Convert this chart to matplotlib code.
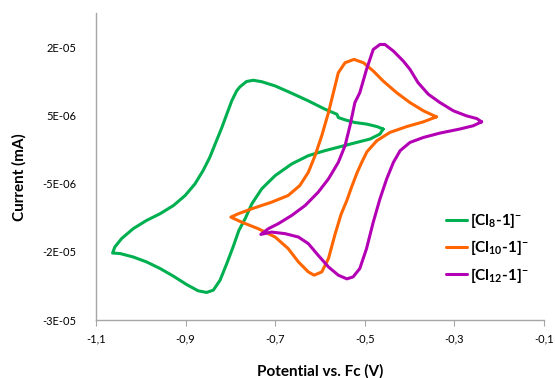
import matplotlib
matplotlib.use("Agg")
import matplotlib.pyplot as plt
import numpy as np

plt.rcParams["font.family"] = ["Lato", "DejaVu Sans"]
plt.rcParams["mathtext.fontset"] = "custom"
plt.rcParams["mathtext.rm"] = "Lato:bold"
plt.rcParams["mathtext.default"] = "rm"

# potential (V vs Fc) and current (units of 1e-6)
v_cl8 = [-0.459, -0.473, -0.496, -0.522, -0.544, -0.559, -0.562, -0.589, -0.626, -0.663,
         -0.700, -0.730, -0.749, -0.764, -0.779, -0.786, -0.797, -0.808, -0.819, -0.831,
         -0.846, -0.861, -0.879, -0.901, -0.927, -0.957, -0.987, -1.017, -1.043, -1.058,
         -1.063, -1.046, -1.017, -0.987, -0.957, -0.927, -0.898, -0.872, -0.853, -0.838,
         -0.823, -0.808, -0.794, -0.781, -0.767, -0.752, -0.730, -0.700, -0.663, -0.626,
         -0.589, -0.552, -0.518, -0.488, -0.466, -0.459]
i_cl8 = [2.99, 3.36, 3.72, 3.95, 4.34, 4.68, 5.15, 5.91, 7.12, 8.24,
         9.31, 9.93, 10.14, 9.96, 9.16, 8.58, 7.12, 5.18, 3.22, 1.28,
         -1.16, -3.10, -5.04, -6.75, -8.21, -9.42, -10.40, -11.61, -13.07, -14.30,
         -15.18, -15.26, -15.76, -16.49, -17.45, -18.58, -19.79, -20.72, -20.96, -20.62,
         -19.16, -16.72, -14.30, -11.86, -10.15, -7.96, -5.77, -3.83, -2.12, -0.91,
         -0.18, 0.45, 1.03, 1.53, 2.26, 2.99]

v_cl10 = [-0.340, -0.369, -0.399, -0.429, -0.459, -0.481, -0.503, -0.524, -0.544, -0.559,
          -0.570, -0.581, -0.596, -0.611, -0.626, -0.645, -0.671, -0.708, -0.752, -0.782,
          -0.799, -0.775, -0.738, -0.700, -0.671, -0.648, -0.626, -0.613, -0.596, -0.581,
          -0.567, -0.553, -0.540, -0.529, -0.517, -0.506, -0.495, -0.473, -0.444, -0.406,
          -0.369, -0.340]
i_cl10 = [4.78, 5.66, 6.87, 8.33, 10.04, 11.50, 12.71, 13.20, 12.71, 11.25,
          8.33, 5.41, 2.01, -0.91, -3.35, -5.29, -6.75, -7.73, -8.69, -9.42,
          -9.92, -10.65, -11.61, -12.84, -14.53, -16.49, -17.95, -18.43, -17.95, -15.99,
          -12.59, -9.53, -7.48, -5.44, -3.39, -1.79, -0.33, 1.28, 2.49, 3.36,
          4.05, 4.78]

v_cl12 = [-0.239, -0.250, -0.273, -0.302, -0.332, -0.358, -0.381, -0.399, -0.414, -0.436,
          -0.455, -0.466, -0.481, -0.496, -0.511, -0.522, -0.533, -0.544, -0.559, -0.581,
          -0.604, -0.633, -0.663, -0.693, -0.715, -0.732, -0.708, -0.678, -0.648, -0.626,
          -0.604, -0.581, -0.559, -0.540, -0.526, -0.511, -0.496, -0.481, -0.466, -0.451,
          -0.436, -0.421, -0.399, -0.369, -0.332, -0.288, -0.258, -0.239]
i_cl12 = [4.05, 4.53, 4.93, 5.66, 6.87, 8.09, 9.79, 11.74, 12.96, 14.42,
          15.39, 15.39, 14.66, 11.74, 8.33, 6.87, 3.47, 0.55, -1.89, -4.31,
          -6.27, -8.21, -9.67, -10.88, -11.61, -12.45, -12.11, -12.34, -12.84, -13.80,
          -15.51, -17.22, -18.43, -18.97, -18.68, -17.45, -14.53, -10.65, -7.23, -4.31,
          -1.89, -0.18, 1.03, 1.76, 2.40, 2.99, 3.47, 4.05]

labels = [r"[Cl$_{8}$-1]$^{-}$", r"[Cl$_{10}$-1]$^{-}$", r"[Cl$_{12}$-1]$^{-}$"]
colors = ["#00B050", "#FF6600", "#B400B4"]

x_ticks = [-1.1, -0.9, -0.7, -0.5, -0.3, -0.1]
x_tick_labels = ["-1,1", "-0,9", "-0,7", "-0,5", "-0,3", "-0,1"]
y_ticks = [-2.5e-5, -1.5e-5, -0.5e-5, 0.5e-5, 1.5e-5]
y_tick_labels = ["-3E-05", "-2E-05", "-5E-06", "5E-06", "2E-05"]

fig = plt.figure(figsize=(5.55, 3.78), dpi=100)
ax = fig.add_axes([0.173, 0.1534, 0.807, 0.8122])

for v, i, lab, c in zip([v_cl8, v_cl10, v_cl12], [i_cl8, i_cl10, i_cl12], labels, colors):
    ax.plot(v, np.array(i) * 1e-6, color=c, lw=2.2, label=lab,
            solid_joinstyle="round", solid_capstyle="round")

ax.set_xlim(-1.1, -0.1)
ax.set_ylim(-2.5e-5, 2.0e-5)
ax.set_xticks(x_ticks)
ax.set_xticklabels(x_tick_labels)
ax.set_yticks(y_ticks)
ax.set_yticklabels(y_tick_labels)
ax.tick_params(axis="x", length=4, color="#a6a6a6", labelsize=8, pad=6)
ax.tick_params(axis="y", length=0, labelsize=8, pad=14)

for s in ["top", "right"]:
    ax.spines[s].set_visible(False)
for s in ["left", "bottom"]:
    ax.spines[s].set_color("#a6a6a6")
    ax.spines[s].set_linewidth(1)

ax.set_xlabel("Potential vs. Fc (V)", fontsize=11, fontweight="bold", labelpad=14)
ax.set_ylabel("Current (mA)", fontsize=11, fontweight="bold")
ax.yaxis.set_label_coords(-0.156, 0.465)

ax.legend(loc="center left", bbox_to_anchor=(0.75, 0.235), frameon=False,
          prop={"size": 11, "weight": "bold"}, handlelength=1.4, handletextpad=0.2,
          labelspacing=0.55)

fig.savefig("out.png", dpi=100)
